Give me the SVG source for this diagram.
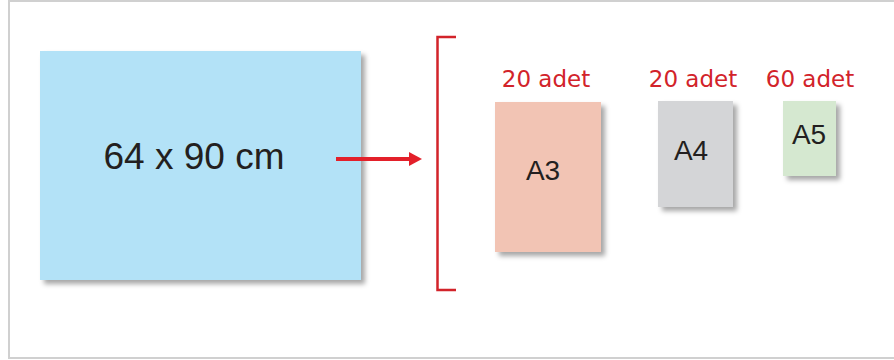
<svg xmlns="http://www.w3.org/2000/svg" width="894" height="360" viewBox="0 0 894 360">
<defs>
<style>
.sheet{filter:url(#sh);}
.big{font-family:"Liberation Sans",Arial,sans-serif;font-size:37px;fill:#231f20;text-anchor:middle;}
.lbl{font-family:"Liberation Sans",Arial,sans-serif;font-size:28px;fill:#231f20;text-anchor:middle;}
.cnt{font-family:"DejaVu Sans",sans-serif;font-size:23px;fill:#d2232a;text-anchor:middle;}
.red{stroke:#d2232a;fill:none;}
</style>
<filter id="sh" x="-10%" y="-10%" width="130%" height="130%">
<feDropShadow dx="4" dy="4" stdDeviation="2.5" flood-color="#000" flood-opacity="0.35"/>
</filter>
<marker id="ah" markerWidth="13" markerHeight="14" refX="3" refY="7" orient="auto" markerUnits="userSpaceOnUse">
<path d="M0,0 L13,7 L0,14 z" fill="#e3202a"/>
</marker>
</defs>
<rect x="9" y="1" width="900" height="357" fill="#fff" stroke="#d0d0d0" stroke-width="2"/>
<g id="source">
<rect class="sheet" x="40" y="51" width="321" height="229" fill="#b3e2f7"/>
<text class="big" x="194" y="169">64 x 90 cm</text>
</g>
<g id="connectors">
<line x1="336" y1="159" x2="412" y2="159" stroke="#e3202a" stroke-width="4" marker-end="url(#ah)"/>
<path class="red" stroke-width="2.5" d="M456,37 H437.5 V290 H456"/>
</g>
<g id="a3">
<text class="cnt" x="546" y="87">20 adet</text>
<rect class="sheet" x="495" y="102" width="106" height="150" fill="#f2c4b4"/>
<text class="lbl" x="543" y="180">A3</text>
</g>
<g id="a4">
<text class="cnt" x="693" y="87">20 adet</text>
<rect class="sheet" x="658" y="101" width="75" height="106" fill="#d4d5d7"/>
<text class="lbl" x="691" y="160">A4</text>
</g>
<g id="a5">
<text class="cnt" x="810" y="87">60 adet</text>
<rect class="sheet" x="783" y="101" width="53" height="75" fill="#d5e8d0"/>
<text class="lbl" x="809" y="144">A5</text>
</g>
</svg>
